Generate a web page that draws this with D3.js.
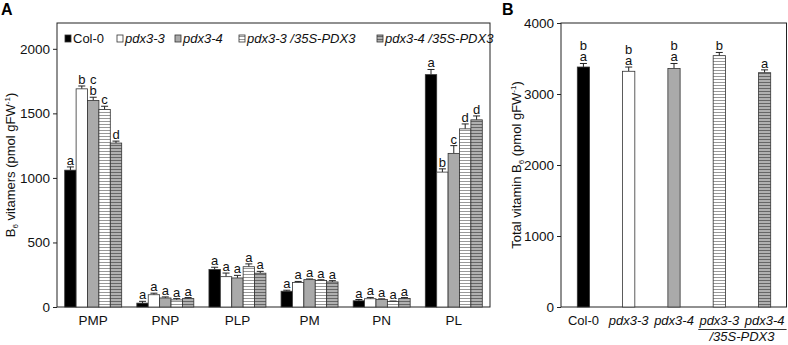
<!DOCTYPE html>
<html>
<head>
<meta charset="utf-8">
<script src="https://cdn.jsdelivr.net/npm/d3@7"></script>
<style>
  body { margin: 0; background: #fff; }
  svg text { font-family: "Liberation Sans", Arial, sans-serif; }
</style>
</head>
<body>
<div class="chart"></div>
<script>
// data
var vitamers = ["PMP", "PNP", "PLP", "PM", "PN", "PL"];
var genotypes = ["Col-0", "pdx3-3", "pdx3-4", "pdx3-3 /35S-PDX3", "pdx3-4 /35S-PDX3"];

var col0Values = [1060, 30, 290, 122, 48, 1800];
var pdx33Values = [1690, 95, 235, 190, 64, 1045];
var pdx34Values = [1600, 70, 225, 212, 58, 1190];
var pdx33compValues = [1530, 55, 312, 206, 42, 1380];
var pdx34compValues = [1270, 65, 262, 194, 66, 1450];

var col0Err = [25, 14, 18, 8, 10, 40];
var pdx33Err = [22, 12, 28, 8, 10, 25];
var pdx34Err = [25, 8, 20, 5, 5, 60];
var pdx33compErr = [25, 10, 22, 5, 4, 38];
var pdx34compErr = [15, 8, 14, 10, 7, 30];

// letters, listed top to bottom
var col0Letters = [["a"], ["a"], ["a"], ["a"], ["a"], ["a"]];
var pdx33Letters = [["b"], ["a"], ["a"], ["a"], ["a"], ["b"]];
var pdx34Letters = [["c", "b"], ["a"], ["a"], ["a"], ["a"], ["c"]];
var pdx33compLetters = [["c"], ["a"], ["a"], ["a"], ["a"], ["d"]];
var pdx34compLetters = [["d"], ["a"], ["a"], ["a"], ["a"], ["d"]];

var totalValues = [3380, 3320, 3360, 3540, 3300];
var totalErr = [50, 60, 70, 45, 40];
var totalLetters = [["b", "a"], ["b", "a"], ["b", "a"], ["b"], ["a"]];

var yTicksA = [0, 500, 1000, 1500, 2000];
var yTicksB = [0, 1000, 2000, 3000, 4000];

var seriesValues = [col0Values, pdx33Values, pdx34Values, pdx33compValues, pdx34compValues];
var seriesErr = [col0Err, pdx33Err, pdx34Err, pdx33compErr, pdx34compErr];
var seriesLetters = [col0Letters, pdx33Letters, pdx34Letters, pdx33compLetters, pdx34compLetters];

var fills = ["#000", "#fff", "#aaa", "url(#hatchLight)", "url(#hatchDark)"];

var svg = d3.select(".chart").append("svg")
  .attr("width", 788)
  .attr("height", 345);

// hatch patterns
var defs = svg.append("defs");
var p1 = defs.append("pattern").attr("id", "hatchLight")
  .attr("patternUnits", "userSpaceOnUse").attr("width", 4).attr("height", 3);
p1.append("rect").attr("width", 4).attr("height", 3).attr("fill", "#fff");
p1.append("rect").attr("y", 1).attr("width", 4).attr("height", 1).attr("fill", "#999");
var p2 = defs.append("pattern").attr("id", "hatchDark")
  .attr("patternUnits", "userSpaceOnUse").attr("width", 4).attr("height", 3);
p2.append("rect").attr("width", 4).attr("height", 3).attr("fill", "#b0b0b0");
p2.append("rect").attr("y", 1).attr("width", 4).attr("height", 1).attr("fill", "#666");

// ---------- Panel A ----------
var A = { left: 57, right: 490, top: 23, bottom: 307 };

var x0 = d3.scaleBand().domain(vitamers).range([A.left, A.right])
  .paddingInner(0.21).paddingOuter(0.107);
var x1 = d3.scaleBand().domain(genotypes).range([0, x0.bandwidth()]);
var yA = d3.scaleLinear().domain([0, 2200]).range([A.bottom, A.top]);

var gA = svg.append("g");

// frame
gA.append("rect")
  .attr("x", A.left).attr("y", A.top)
  .attr("width", A.right - A.left).attr("height", A.bottom - A.top)
  .attr("fill", "none").attr("stroke", "#222").attr("stroke-width", 1);

var barData = [];
vitamers.forEach(function(v, i) {
  genotypes.forEach(function(g, j) {
    barData.push({ vit: v, geno: g, j: j, value: seriesValues[j][i], err: seriesErr[j][i], letters: seriesLetters[j][i] });
  });
});

function drawBars(g, data, xPos, width, yScale) {
  var bars = g.selectAll(null).data(data).enter().append("g");
  // error bars
  bars.append("line")
    .attr("x1", function(d) { return xPos(d) + width / 2; })
    .attr("x2", function(d) { return xPos(d) + width / 2; })
    .attr("y1", function(d) { return yScale(d.value); })
    .attr("y2", function(d) { return yScale(d.value + d.err); })
    .attr("stroke", "#222");
  bars.append("line")
    .attr("x1", function(d) { return xPos(d) + width / 2 - 3.5; })
    .attr("x2", function(d) { return xPos(d) + width / 2 + 3.5; })
    .attr("y1", function(d) { return yScale(d.value + d.err); })
    .attr("y2", function(d) { return yScale(d.value + d.err); })
    .attr("stroke", "#222");
  bars.append("rect")
    .attr("x", function(d) { return xPos(d); })
    .attr("y", function(d) { return yScale(d.value); })
    .attr("width", width)
    .attr("height", function(d) { return yScale(0) - yScale(d.value); })
    .attr("fill", function(d) { return fills[d.j]; })
    .attr("stroke", "#333")
    .attr("stroke-width", 0.8);
  // letters
  bars.each(function(d) {
    var n = d.letters.length;
    var base = yScale(d.value + d.err) - 2;
    d3.select(this).selectAll(null).data(d.letters).enter().append("text")
      .attr("x", xPos(d) + width / 2)
      .attr("y", function(l, k) { return base - (n - 1 - k) * 11; })
      .attr("text-anchor", "middle")
      .attr("font-size", "13px")
      .attr("fill", "#111")
      .text(function(l) { return l; });
  });
}

drawBars(gA, barData, function(d) { return x0(d.vit) + x1(d.geno); }, x1.bandwidth(), yA);

// axes
var leftAxisA = d3.axisLeft(yA).tickValues(yTicksA).tickFormat(d3.format("d")).tickSize(4).tickSizeOuter(0);
var axA = gA.append("g").attr("transform", "translate(" + A.left + ",0)").call(leftAxisA);
axA.select(".domain").remove();
axA.selectAll("text").attr("font-size", "13.5px").attr("fill", "#111").attr("font-family", "Liberation Sans, Arial, sans-serif");
axA.selectAll("line").attr("stroke", "#222");

var bottomAxisA = d3.axisBottom(x0).tickSize(0).tickPadding(8);
var bxA = gA.append("g").attr("transform", "translate(0," + A.bottom + ")").call(bottomAxisA);
bxA.select(".domain").remove();
bxA.selectAll("text").attr("font-size", "13.5px").attr("fill", "#111").attr("font-family", "Liberation Sans, Arial, sans-serif");

// y title
var tA = gA.append("text")
  .attr("transform", "translate(15," + ((A.top + A.bottom) / 2) + ") rotate(-90)")
  .attr("text-anchor", "middle")
  .attr("font-size", "13px")
  .attr("fill", "#111");
tA.append("tspan").text("B");
tA.append("tspan").attr("font-size", "8px").attr("dy", 3).text("6");
tA.append("tspan").attr("dy", -3).text(" vitamers (pmol gFW");
tA.append("tspan").attr("font-size", "8px").attr("dy", -5).text("-1");
tA.append("tspan").attr("dy", 5).text(")");

// legend
var legendX = [65, 117, 175, 239, 377];
var legend = gA.selectAll(".legend").data(genotypes).enter().append("g")
  .attr("transform", function(d, i) { return "translate(" + legendX[i] + ",35)"; });
legend.append("rect")
  .attr("width", 6).attr("height", 7)
  .attr("fill", function(d, i) { return fills[i]; })
  .attr("stroke", "#333").attr("stroke-width", 0.8);
legend.append("text")
  .attr("x", 8).attr("y", 8)
  .attr("font-size", "13px")
  .attr("fill", "#111")
  .attr("font-style", function(d, i) { return i === 0 ? "normal" : "italic"; })
  .text(function(d) { return d; });

svg.append("text").attr("x", 1).attr("y", 15)
  .attr("font-size", "16px").attr("font-weight", "bold").text("A");

// ---------- Panel B ----------
var B = { left: 561, right: 787, top: 23, bottom: 307 };
var xB = d3.scaleBand().domain(genotypes).range([B.left, B.right])
  .paddingInner(0.73).paddingOuter(0.36);
var yB = d3.scaleLinear().domain([0, 4000]).range([B.bottom, B.top]);

var gB = svg.append("g");
gB.append("rect")
  .attr("x", B.left).attr("y", B.top)
  .attr("width", B.right - B.left - 0.5).attr("height", B.bottom - B.top)
  .attr("fill", "none").attr("stroke", "#222");

var totalData = genotypes.map(function(g, j) {
  return { geno: g, j: j, value: totalValues[j], err: totalErr[j], letters: totalLetters[j] };
});
drawBars(gB, totalData, function(d) { return xB(d.geno); }, xB.bandwidth(), yB);

var leftAxisB = d3.axisLeft(yB).tickValues(yTicksB).tickFormat(d3.format("d")).tickSize(4).tickSizeOuter(0);
var axB = gB.append("g").attr("transform", "translate(" + B.left + ",0)").call(leftAxisB);
axB.select(".domain").remove();
axB.selectAll("text").attr("font-size", "13.5px").attr("fill", "#111").attr("font-family", "Liberation Sans, Arial, sans-serif");
axB.selectAll("line").attr("stroke", "#222");

// x labels for panel B
var xLabelsB = ["Col-0", "pdx3-3", "pdx3-4", "pdx3-3", "pdx3-4"];
gB.selectAll(".xlab").data(xLabelsB).enter().append("text")
  .attr("x", function(d, i) { return xB(genotypes[i]) + xB.bandwidth() / 2; })
  .attr("y", 325)
  .attr("text-anchor", "middle")
  .attr("font-size", "13px")
  .attr("fill", "#111")
  .attr("font-style", function(d, i) { return i === 0 ? "normal" : "italic"; })
  .text(function(d) { return d; });
var c3 = xB(genotypes[3]) + xB.bandwidth() / 2;
var c4 = xB(genotypes[4]) + xB.bandwidth() / 2;
gB.append("line")
  .attr("x1", c3 - 21).attr("x2", c4 + 22)
  .attr("y1", 329.5).attr("y2", 329.5)
  .attr("stroke", "#333");
gB.append("text")
  .attr("x", (c3 + c4) / 2).attr("y", 341)
  .attr("text-anchor", "middle")
  .attr("font-size", "13px")
  .attr("font-style", "italic")
  .attr("fill", "#111")
  .text("/35S-PDX3");

var tB = gB.append("text")
  .attr("transform", "translate(521," + ((B.top + B.bottom) / 2) + ") rotate(-90)")
  .attr("text-anchor", "middle")
  .attr("font-size", "13px")
  .attr("fill", "#111");
tB.append("tspan").text("Total vitamin B");
tB.append("tspan").attr("font-size", "8px").attr("dy", 3).text("6");
tB.append("tspan").attr("dy", -3).text(" (pmol gFW");
tB.append("tspan").attr("font-size", "8px").attr("dy", -5).text("-1");
tB.append("tspan").attr("dy", 5).text(")");

svg.append("text").attr("x", 502).attr("y", 15)
  .attr("font-size", "16px").attr("font-weight", "bold").text("B");
</script>
</body>
</html>
